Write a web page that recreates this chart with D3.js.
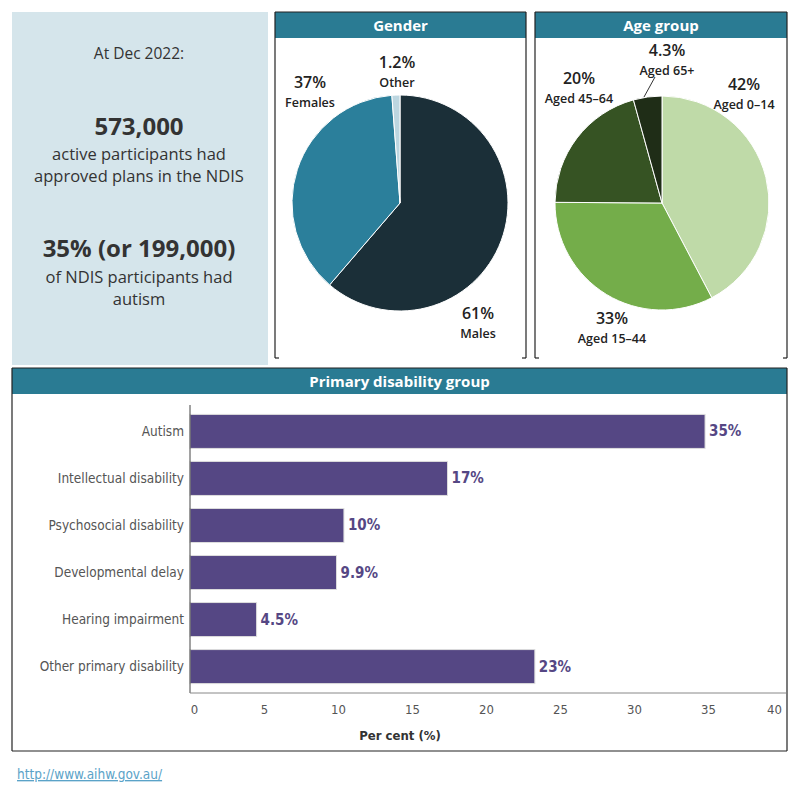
<!DOCTYPE html>
<html>
<head>
<meta charset="utf-8">
<script src="https://cdn.jsdelivr.net/npm/d3@7"></script>
<style>
  body { margin: 0; background: #fff; }
  svg { display: block; font-family: "Open Sans", "Noto Sans", sans-serif; }
</style>
</head>
<body>
<div id="chart"></div>
<script>
// data
const genderLabels = ["Males", "Females", "Other"];
const genderValues = [61.3, 37.5, 1.2];
const genderText = ["61%", "37%", "1.2%"];

const ageLabels = ["Aged 0–14", "Aged 15–44", "Aged 45–64", "Aged 65+"];
const ageValues = [42.3, 32.8, 20.6, 4.3];
const ageText = ["42%", "33%", "20%", "4.3%"];

const disabilityGroups = ["Autism", "Intellectual disability", "Psychosocial disability",
  "Developmental delay", "Hearing impairment", "Other primary disability"];
const disabilityValues = [34.8, 17.4, 10.4, 9.9, 4.5, 23.3];
const disabilityText = ["35%", "17%", "10%", "9.9%", "4.5%", "23%"];
const xTicks = [0, 5, 10, 15, 20, 25, 30, 35, 40];

const width = 800, height = 800;
const teal = "#2a7b93";
const narrow = "'Liberation Sans Narrow', 'DejaVu Sans Condensed', sans-serif";

const svg = d3.select("#chart").append("svg")
  .attr("width", width).attr("height", height);

// left summary panel
svg.append("rect").attr("x", 12).attr("y", 12).attr("width", 256).attr("height", 353)
  .attr("fill", "#d5e5eb");

const summary = [
  { t: "At Dec 2022:", y: 59, size: 15.5, bold: false },
  { t: "573,000", y: 135, size: 24, bold: true },
  { t: "active participants had", y: 160, size: 16.5, bold: false },
  { t: "approved plans in the NDIS", y: 182, size: 16.5, bold: false },
  { t: "35% (or 199,000)", y: 257, size: 24, bold: true },
  { t: "of NDIS participants had", y: 283, size: 16.5, bold: false },
  { t: "autism", y: 305, size: 16.5, bold: false }
];
svg.append("g").selectAll("text").data(summary).enter().append("text")
  .attr("x", 139).attr("y", d => d.y)
  .attr("text-anchor", "middle")
  .attr("font-size", d => d.size)
  .attr("font-weight", d => d.bold ? "bold" : "normal")
  .attr("fill", "#333")
  .text(d => d.t);

// panel frame with title bar
function panel(x, y, w, h, title, fullBottom) {
  const g = svg.append("g");
  g.append("rect").attr("x", x).attr("y", y).attr("width", w).attr("height", 26).attr("fill", teal);
  g.append("text").attr("x", x + w / 2).attr("y", y + 19)
    .attr("text-anchor", "middle").attr("fill", "#fff")
    .attr("font-size", 15).attr("font-weight", "bold").text(title);
  const line = (x1, y1, x2, y2) => g.append("line")
    .attr("x1", x1).attr("y1", y1).attr("x2", x2).attr("y2", y2)
    .attr("stroke", "#222").attr("stroke-width", 1.2);
  line(x, y, x + w, y);
  line(x, y, x, y + h);
  line(x + w, y, x + w, y + h);
  if (fullBottom) line(x, y + h, x + w, y + h);
  else { line(x, y + h, x + 4, y + h); line(x + w - 4, y + h, x + w, y + h); }
  return g;
}

// pie helper
function drawPie(cx, cy, r, values, colors, labels, texts, positions) {
  const pie = d3.pie().sort(null).value(d => d);
  const arc = d3.arc().innerRadius(0).outerRadius(r);
  const g = svg.append("g").attr("transform", `translate(${cx},${cy})`);
  g.selectAll("path").data(pie(values)).enter().append("path")
    .attr("d", arc)
    .attr("fill", (d, i) => colors[i])
    .attr("stroke", "#fff").attr("stroke-width", 1);
  positions.forEach((p, i) => {
    svg.append("text").attr("x", p[0]).attr("y", p[1])
      .attr("text-anchor", "middle").attr("font-size", 16).attr("font-weight", 600).attr("fill", "#222")
      .text(texts[i]);
    svg.append("text").attr("x", p[0]).attr("y", p[1] + 19)
      .attr("text-anchor", "middle").attr("font-size", 12.5).attr("font-weight", 600).attr("fill", "#222")
      .text(labels[i]);
  });
}

panel(275, 12, 251, 346, "Gender", false);
drawPie(400, 203, 108, genderValues, ["#1b2f38", "#2b7f9b", "#bcd6e0"],
  genderLabels, genderText, [[478, 319], [310, 88], [397, 68]]);

panel(535, 12, 252, 346, "Age group", false);
drawPie(662, 203, 107, ageValues, ["#bfdaa8", "#74ad4a", "#365323", "#1f2d17"],
  ageLabels, ageText, [[744, 90], [612, 324], [579, 84], [667, 56]]);
// leader line for Aged 65+
svg.append("line").attr("x1", 655).attr("y1", 77).attr("x2", 644).attr("y2", 97)
  .attr("stroke", "#333").attr("stroke-width", 1);

// bar chart panel
panel(12, 368, 775, 383, "Primary disability group", true);

const margin = { left: 190, right: 782, top: 405, bottom: 693 };
const x = d3.scaleLinear().domain([0, 40]).range([margin.left, margin.right]);
const y = d3.scaleBand().domain(disabilityGroups).range([405, 693]).paddingInner(0.277).paddingOuter(0.2);

const bars = svg.append("g");
bars.selectAll("rect").data(disabilityValues).enter().append("rect")
  .attr("x", x(0))
  .attr("y", (d, i) => y(disabilityGroups[i]))
  .attr("width", d => x(d) - x(0))
  .attr("height", y.bandwidth())
  .attr("fill", "#554784")
  .attr("stroke", "#ddd").attr("stroke-width", 1);

bars.selectAll("text.val").data(disabilityValues).enter().append("text")
  .attr("class", "val")
  .attr("x", d => x(d) + 4)
  .attr("y", (d, i) => y(disabilityGroups[i]) + y.bandwidth() / 2 + 5)
  .attr("font-size", 15).attr("font-weight", "bold").attr("fill", "#554784")
  .attr("font-family", narrow)
  .text((d, i) => disabilityText[i]);

// y axis
const yAxis = svg.append("g").attr("transform", `translate(${margin.left},0)`)
  .call(d3.axisLeft(y).tickSize(0).tickPadding(6));
yAxis.select(".domain").attr("d", `M0,${margin.top}V${margin.bottom}`).attr("stroke", "#444");
yAxis.selectAll("text").attr("font-size", 13.5).attr("fill", "#555").attr("font-family", narrow);

// x axis
const xAxis = svg.append("g").attr("transform", `translate(0,${margin.bottom})`)
  .call(d3.axisBottom(x).tickValues(xTicks).tickSize(0).tickPadding(12));
xAxis.select(".domain").attr("d", `M${margin.left},0H786`).attr("stroke", "#888");
xAxis.selectAll("text").attr("font-size", 13).attr("fill", "#555").attr("font-family", narrow)
  .attr("dx", d => d === 0 ? 4 : d === 40 ? -8 : 0);

svg.append("text").attr("x", 400).attr("y", 740).attr("text-anchor", "middle")
  .attr("font-size", 13).attr("font-weight", "bold").attr("fill", "#333")
  .attr("font-family", narrow).text("Per cent (%)");

// footer link
svg.append("text").attr("x", 17).attr("y", 779)
  .attr("font-size", 13.5).attr("fill", "#5ba3c8").attr("text-decoration", "underline")
  .attr("font-family", narrow).text("http://www.aihw.gov.au/");
</script>
</body>
</html>
